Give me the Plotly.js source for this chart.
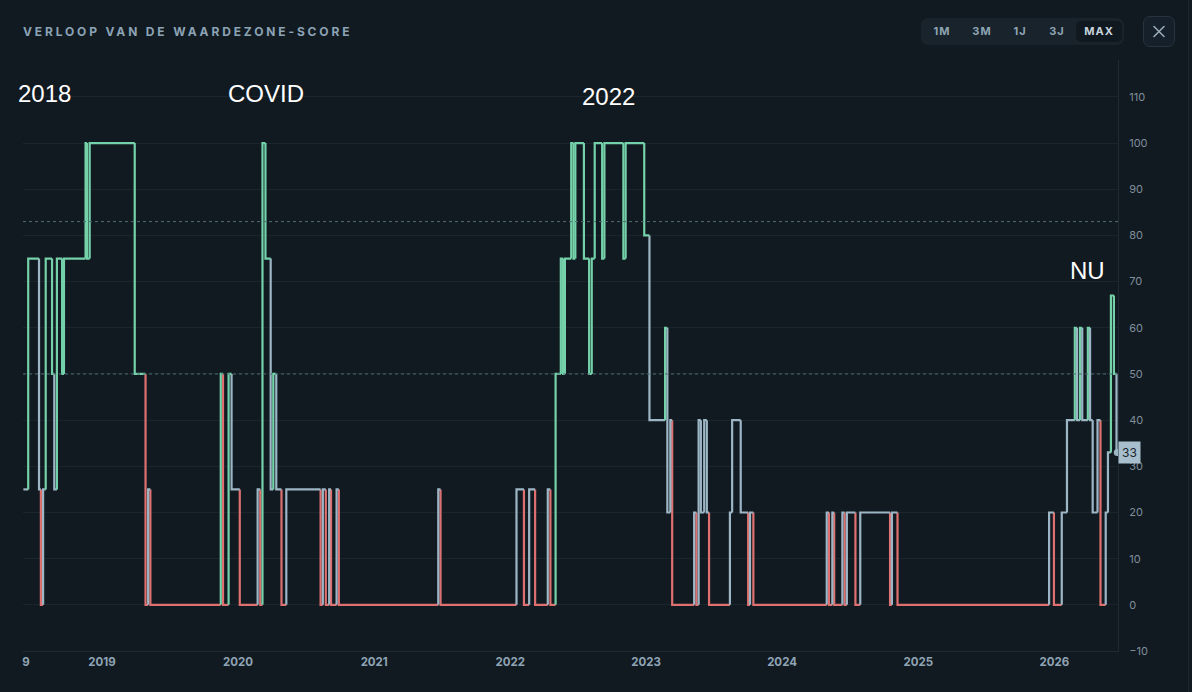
<!DOCTYPE html>
<html>
<head>
<meta charset="utf-8">
<script src="https://cdn.plot.ly/plotly-3.0.1.min.js"></script>
<style>
  html, body { margin:0; padding:0; background:#121a21; width:1192px; height:692px; overflow:hidden; }
  #chart { position:absolute; left:0; top:0; width:1192px; height:692px; }
  .title { position:absolute; left:23px; top:24px; font:700 12px Inter, "DejaVu Sans", sans-serif; letter-spacing:2.85px; color:#8ba3b5; white-space:nowrap; }
  .group { position:absolute; left:921px; top:18px; width:203px; height:27px; background:#18232c; border-radius:7px; }
  .btn { position:absolute; top:0; height:27px; font:700 11px Inter, "DejaVu Sans", sans-serif; line-height:27px; letter-spacing:1px; color:#8ea3b3; text-align:center; }
  .btn.active { top:3px; height:21px; line-height:21px; background:#111920; border-radius:5px; color:#c8d5de; }
  .close { position:absolute; left:1143px; top:16px; width:30px; height:29px; border:1px solid #26343f; border-radius:7px; background:#15202a; }
  .edge { position:absolute; left:1188px; top:0; width:1px; height:692px; background:#1c262f; }
</style>
</head>
<body>
<div id="chart"></div>
<div class="title">VERLOOP VAN DE WAARDEZONE-SCORE</div>
<div class="group">
  <div class="btn" style="left:7px;width:28px;">1M</div>
  <div class="btn" style="left:47px;width:28px;">3M</div>
  <div class="btn" style="left:87px;width:24px;">1J</div>
  <div class="btn" style="left:124px;width:24px;">3J</div>
  <div class="btn active" style="left:155px;width:46px;">MAX</div>
</div>
<div class="close">
  <svg width="30" height="29" viewBox="0 0 30 29"><path d="M10 9.5 L20 19.5 M20 9.5 L10 19.5" stroke="#9aabb7" stroke-width="1.6" stroke-linecap="round"/></svg>
</div>
<div class="edge"></div>
<script>
// ---- data ----
const dates = [
'2018-06-04','2018-06-17','2018-07-16','2018-07-21','2018-07-27','2018-08-03','2018-08-20','2018-08-26','2018-09-02','2018-09-16','2018-09-21','2018-11-18','2018-11-22','2018-11-29',
'2019-03-30','2019-04-28','2019-05-05','2019-05-11','2019-11-16','2019-11-22','2019-12-07','2019-12-15',
'2020-01-06','2020-02-23','2020-03-01','2020-03-07','2020-03-15','2020-03-29','2020-04-05','2020-04-13','2020-04-27','2020-05-10','2020-08-10','2020-08-16','2020-08-24','2020-09-02','2020-09-07','2020-09-22','2020-09-28',
'2021-06-22','2021-06-28',
'2022-01-18','2022-02-07','2022-02-21','2022-03-09','2022-04-12','2022-04-19','2022-05-03','2022-05-17','2022-05-23','2022-05-28','2022-06-14','2022-06-20','2022-06-25','2022-07-18','2022-08-01','2022-08-08','2022-08-16','2022-09-05','2022-09-11','2022-11-01','2022-11-07','2022-12-27',
'2023-01-10','2023-02-21','2023-02-27','2023-03-07','2023-03-12','2023-05-10','2023-05-16','2023-05-22','2023-05-28','2023-06-06','2023-06-13','2023-06-19','2023-08-14','2023-08-20','2023-09-12','2023-10-02','2023-10-07','2023-10-16',
'2024-04-30','2024-05-06','2024-05-15','2024-05-20','2024-06-11','2024-06-17','2024-06-23','2024-07-16','2024-07-29','2024-10-17','2024-10-22','2024-11-06',
'2025-12-18','2025-12-31',
'2026-01-21','2026-02-04','2026-02-25','2026-03-03','2026-03-11','2026-03-17','2026-04-01','2026-04-07','2026-04-14','2026-04-27','2026-05-05','2026-05-19','2026-05-25','2026-06-02','2026-06-10','2026-06-17','2026-06-19'
];
const scores = [
25,75,25,0,25,75,50,25,75,50,75,100,75,100,
50,0,25,0,50,0,50,25,
0,25,0,100,75,25,50,25,0,25,0,25,0,25,0,25,0,
25,0,
25,0,25,0,25,0,50,75,50,75,100,75,100,75,50,75,100,75,100,75,100,80,
40,60,20,40,0,20,0,40,20,40,20,0,20,40,20,0,20,0,
20,0,20,0,20,0,20,0,20,0,20,0,
20,0,
20,40,60,40,60,40,60,40,20,40,0,20,33,67,50,33,33
];
const tickDates  = ['2018-06-11','2019-01-01','2020-01-01','2021-01-01','2022-01-01','2023-01-01','2024-01-01','2025-01-01','2026-01-01'];
const tickLabels = ['9','2019','2020','2021','2022','2023','2024','2025','2026'];
const yTicks = [-10,0,10,20,30,40,50,60,70,80,90,100,110];
const zoneLines = [83, 50];
const eventLabels = ['2018','COVID','2022','NU'];
const eventDates  = ['2018-08-01','2020-03-16','2022-09-23','2026-03-30'];
const eventLevels = [110.8, 110.8, 110, 72.4];

// ---- styling ----
const GREEN = '#74d1a9', BLUE = '#9db6c6', RED = '#de7070';
function colorOf(v){ return v >= 50 ? GREEN : (v > 0 ? BLUE : RED); }

const groups = {};
groups[RED] = {x:[], y:[]}; groups[BLUE] = {x:[], y:[]}; groups[GREEN] = {x:[], y:[]};
for (let i = 0; i < dates.length - 1; i++) {
  const g = groups[colorOf(scores[i])];
  if (i > 0) { g.x.push(dates[i]); g.y.push(scores[i-1]); }
  g.x.push(dates[i]); g.y.push(scores[i]);
  g.x.push(dates[i+1]); g.y.push(scores[i]);
  g.x.push(null); g.y.push(null);
}

const traces = [RED, BLUE, GREEN].map(c => ({
  type:'scatter', mode:'lines', x:groups[c].x, y:groups[c].y,
  line:{color:c, width:2.2}, hoverinfo:'skip', showlegend:false, connectgaps:false
}));
const last = dates.length - 1;
traces.push({type:'scatter', mode:'markers', x:[dates[last]], y:[scores[last]],
  marker:{color:BLUE, size:7}, hoverinfo:'skip', showlegend:false});

const shapes = zoneLines.map(v => ({type:'line', xref:'paper', x0:0, x1:1, yref:'y', y0:v, y1:v,
  line:{color:'#4f6e74', width:1, dash:'dot'}}));

const annotations = eventLabels.map((t,i) => ({
  x:eventDates[i], y:eventLevels[i], xref:'x', yref:'y', text:t, showarrow:false,
  font:{family:'"Liberation Sans", Arial, sans-serif', size:24, color:'#ffffff'}
}));
annotations.push({xref:'paper', x:1, xanchor:'left', xshift:0, yref:'y', y:scores[last], text:String(scores[last]),
  showarrow:false, bgcolor:'#a7bfcc', borderpad:3, font:{family:'Inter, sans-serif', size:12, color:'#1a2530'}});

const layout = {
  width:1192, height:692,
  paper_bgcolor:'#121a21', plot_bgcolor:'#121a21',
  margin:{l:23, r:74, t:60, b:41},
  showlegend:false,
  xaxis:{type:'date', range:['2018-06-03','2026-06-21'], tickvals:tickDates, ticktext:tickLabels,
    showgrid:false, zeroline:false, showline:true, linecolor:'#1f2a34', linewidth:1, ticks:'',
    tickfont:{family:'Inter, sans-serif', size:11.5, color:'#8ea3b3', weight:700}, fixedrange:true},
  yaxis:{side:'right', range:[-10,118], tickvals:yTicks, showgrid:true, gridcolor:'#1b252e', gridwidth:1,
    zeroline:false, showline:true, linecolor:'#1f2a34', ticks:'', ticklabelstandoff:8,
    tickfont:{family:'Inter, sans-serif', size:11, color:'#7f8f9c'}, fixedrange:true},
  shapes:shapes, annotations:annotations
};
Plotly.newPlot('chart', traces, layout, {displayModeBar:false, staticPlot:true});
</script>
</body>
</html>
